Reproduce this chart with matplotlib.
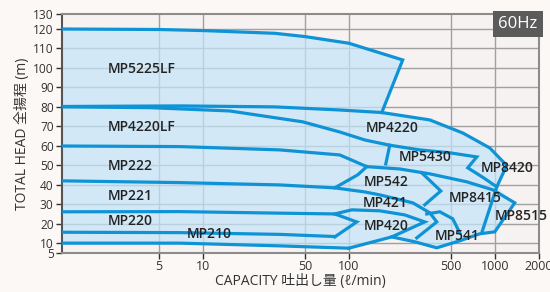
import numpy as np
import matplotlib
matplotlib.use("Agg")
import matplotlib.pyplot as plt

plt.rcParams['font.family'] = ['Open Sans', 'Noto Sans CJK JP', 'DejaVu Sans']

LINE = "#0e93d6"
FILL = "#c4e5f8"

# outer envelope of all pumps (Q l/min, H m)
env_q = [1.08, 5, 10, 31, 50, 99.5, 233, 167.5, 357, 600.7, 920, 1202, 1027, 1364,
         995, 785.5, 573, 398.7, 281.8, 196.1, 99.5, 33.5, 6.92, 1.08]
env_h = [120, 119.75, 119.2, 117.8, 116.1, 112.7, 104.1, 77.1, 73.3, 66.6, 58.9, 49.9, 38.9, 30.7,
         15.8, 14.8, 11.2, 7.6, 10.7, 13.2, 7.4, 8.6, 10.0, 10.0]

# performance curves / envelope edges
curves = {
    "mp5225lf": ([1.08, 5, 10, 31, 50, 99.5, 233, 167.5],
                 [120, 119.75, 119.2, 117.8, 116.1, 112.7, 104.1, 77.1]),
    "line80_upper": ([1.08, 6.92, 31, 86.4, 167.5, 357, 600.7, 920, 1202, 1027, 810.7],
                     [80.2, 80.5, 80, 78.4, 77.1, 73.3, 66.6, 58.9, 49.9, 38.9, 15.3]),
    "line80_lower": ([1.08, 4.31, 15.2, 48.2, 86.4, 128.1, 190, 305, 489.5, 749.5, 650.2, 836.6, 1027],
                     [80, 79.6, 77.9, 72.3, 67.1, 63.0, 60.3, 57.9, 56.4, 54.3, 48.7, 43.5, 38.9]),
    "mp5430_left": ([190, 178.4], [60.3, 50.7]),
    "line60": ([1.08, 6.92, 33.5, 86.4, 132.2, 222.5, 357, 640, 964.3, 1364, 995, 785.5, 573,
                398.7, 281.8, 196.1],
               [59.9, 59.6, 57.9, 55.3, 49.3, 48.1, 45.6, 41.5, 37.4, 30.7, 15.8, 14.8, 11.2,
                7.6, 10.7, 13.2]),
    "line42": ([1.08, 6.92, 33.5, 79.8, 114.7, 132.2],
               [42.0, 41.1, 39.9, 38.4, 45.1, 49.3]),
    "mp542_bottom": ([79.8, 128.1, 162.3, 273.1, 357, 398.7, 290.9],
                     [38.4, 36.3, 34.8, 30.7, 25.6, 20.9, 12.7]),
    "mp542_right": ([314.8, 424.8, 330], [46.1, 36.8, 29.7]),
    "line26": ([1.08, 6.92, 33.5, 79.8, 112.9, 79.8],
               [26.1, 26.2, 25.4, 25.0, 20.9, 13.2]),
    "mp420": ([79.8, 104.4, 162.3, 240.7, 330, 196.1, 99.5],
              [25.0, 27.1, 26.6, 24.5, 20.9, 13.2, 7.4]),
    "mp541_top": ([340.6, 418.7, 513, 573.2], [25.0, 26.1, 22.5, 15.3]),
    "line16": ([1.08, 6.92, 33.5, 79.8], [15.6, 15.4, 14.5, 13.4]),
    "line10": ([1.08, 6.92, 33.5, 99.5], [10.0, 10.0, 8.6, 7.4]),
}

labels = ["MP5225LF", "MP4220LF", "MP222", "MP221", "MP220", "MP210", "MP4220", "MP5430",
          "MP8420", "MP542", "MP421", "MP420", "MP8415", "MP8515", "MP541"]
label_q = [3.8, 3.8, 3.15, 3.15, 3.15, 11.0, 197.7, 330, 1202, 179.8, 177, 179.8, 726, 1500, 551]
label_h = [99.5, 69.7, 49.7, 34.3, 21.4, 14.5, 69.2, 54.0, 48.4, 41.2, 30.4, 18.9, 33.1, 24.0, 13.7]

x_ticks = [5, 10, 50, 100, 500, 1000, 2000]
y_ticks = [5, 10, 20, 30, 40, 50, 60, 70, 80, 90, 100, 110, 120, 130]


def fwd(y):
    y = np.asarray(y, dtype=float)
    return np.where(y > 120, 120 + (y - 120) * 0.755, y)


def inv(y):
    y = np.asarray(y, dtype=float)
    return np.where(y > 120, 120 + (y - 120) / 0.755, y)


fig = plt.figure(figsize=(5.5, 2.92), dpi=100)
fig.patch.set_facecolor("#fbf8f5")
ax = fig.add_axes([0.1127, 0.134, 0.8673, 0.817])
ax.set_facecolor("#f6f2f1")
ax.set_xscale("log")
ax.set_yscale("function", functions=(fwd, inv))
ax.set_xlim(1.08, 2000)
ax.set_ylim(5, 130)

for y in y_ticks[1:-1]:
    ax.axhline(y, color="#a0a0a0", lw=1.0, zorder=1)
for x in x_ticks[:-1]:
    ax.axvline(x, color="#a0a0a0", lw=1.0, zorder=1)

ax.fill(env_q, env_h, color=FILL, alpha=0.72, lw=0, zorder=2)
for name, (q, h) in curves.items():
    ax.plot(q, h, color=LINE, lw=2.3, solid_joinstyle="miter", zorder=3)

for name, q, h in zip(labels, label_q, label_h):
    ax.text(q, h, name, ha="center", va="center", fontsize=10, fontweight="semibold",
            color="#222222", zorder=5)

ax.set_xticks(x_ticks)
ax.set_xticklabels([str(t) for t in x_ticks])
ax.xaxis.set_minor_locator(matplotlib.ticker.NullLocator())
ax.set_yticks(y_ticks)
ax.set_yticklabels([str(t) for t in y_ticks])
ax.tick_params(axis="both", labelsize=9, colors="#333333", length=4, width=1, pad=2)
ax.tick_params(axis="y", labelsize=8.6)
ax.tick_params(axis="x", pad=1)

for side in ["top", "right", "bottom"]:
    ax.spines[side].set_color("#8c8c8c")
    ax.spines[side].set_linewidth(1.5)
ax.spines["left"].set_color("#555555")
ax.spines["left"].set_linewidth(1.5)

ax.set_xlabel("CAPACITY 吐出し量 (ℓ/min)", fontsize=10, color="#333333", labelpad=1)
ax.set_ylabel("TOTAL HEAD 全揚程 (m)", fontsize=10, color="#333333", labelpad=2)

ax.text(0.997, 0.993, "60Hz", transform=ax.transAxes, ha="right", va="top", fontsize=12,
        color="white", zorder=6,
        bbox=dict(boxstyle="square,pad=0.3", facecolor="#5b5b5b", edgecolor="none"))

fig.savefig("out.png", dpi=100, facecolor=fig.get_facecolor())
